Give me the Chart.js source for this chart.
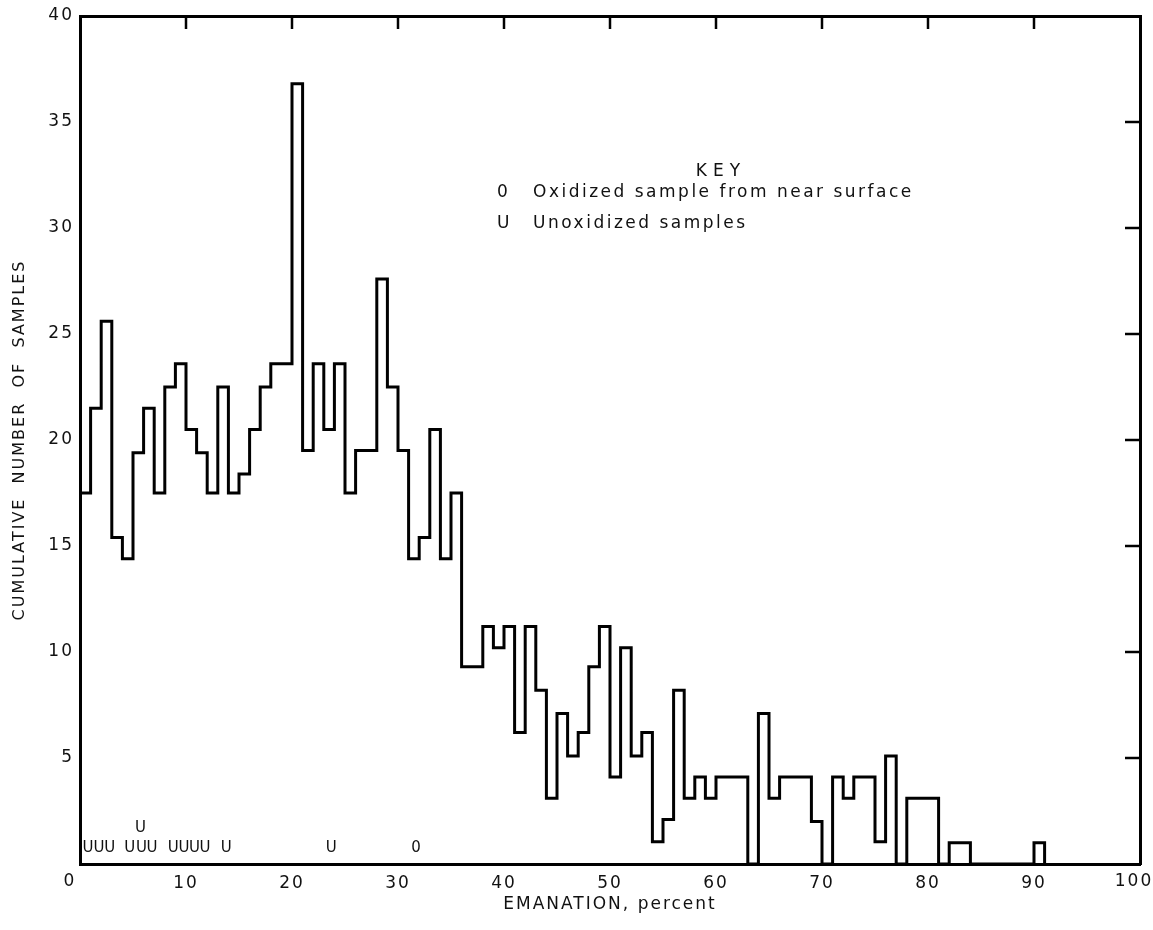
<!DOCTYPE html>
<html>
<head>
<meta charset="utf-8">
<script src="https://cdn.jsdelivr.net/npm/chart.js@4.4.1/dist/chart.umd.min.js"></script>
<style>
  html, body { margin: 0; padding: 0; background: #fff; }
  #wrap { width: 1153px; height: 930px; }
</style>
</head>
<body>
<div id="wrap"><canvas id="myChart" width="1153" height="930"></canvas></div>
<script>
// number of samples in each 1-percent emanation class (class i = i..i+1 percent)
const sampleCounts = [
  17.5, 21.5, 25.6, 15.4, 14.4, 19.4, 21.5, 17.5, 22.5, 23.6,
  20.5, 19.4, 17.5, 22.5, 17.5, 18.4, 20.5, 22.5, 23.6, 23.6,
  36.8, 19.5, 23.6, 20.5, 23.6, 17.5, 19.5, 19.5, 27.6, 22.5,
  19.5, 14.4, 15.4, 20.5, 14.4, 17.5, 9.3, 9.3, 11.2, 10.2,
  11.2, 6.2, 11.2, 8.2, 3.1, 7.1, 5.1, 6.2, 9.3, 11.2,
  4.1, 10.2, 5.1, 6.2, 1.05, 2.1, 8.2, 3.1, 4.1, 3.1,
  4.1, 4.1, 4.1, 0, 7.1, 3.1, 4.1, 4.1, 4.1, 2.0,
  0, 4.1, 3.1, 4.1, 4.1, 1.05, 5.1, 0, 3.1, 3.1,
  3.1, 0, 1.0, 1.0, 0, 0, 0, 0, 0, 0,
  1.0
];
const xTicks = [0, 10, 20, 30, 40, 50, 60, 70, 80, 90, 100];
const yTicks = [5, 10, 15, 20, 25, 30, 35, 40];

// sample markers written along the bottom of the plot
const unoxidizedX = [0.75, 1.8, 2.8, 4.7, 5.8, 6.8, 8.8, 9.8, 10.8, 11.8, 13.8, 23.7, 5.7];
const unoxidizedY = [0.75, 0.75, 0.75, 0.75, 0.75, 0.75, 0.75, 0.75, 0.75, 0.75, 0.75, 0.75, 1.7];
const oxidizedX = [31.7];
const oxidizedY = [0.75];

const keyTitle = 'KEY';
const keyItems = [['0', 'Oxidized sample from near surface'], ['U', 'Unoxidized samples']];

const FONT = '"DejaVu Sans", sans-serif';

const stepPoints = sampleCounts.map((c, i) => ({x: i, y: c}));
stepPoints.push({x: sampleCounts.length, y: 0});

const spacing = {
  id: 'spacing',
  beforeDraw(chart) { chart.ctx.letterSpacing = '2px'; }
};

const markerPlugin = {
  id: 'markers',
  afterDatasetsDraw(chart) {
    const ctx = chart.ctx;
    ctx.save();
    ctx.letterSpacing = '0px';
    ctx.fillStyle = '#111';
    ctx.font = '15px ' + FONT;
    ctx.textAlign = 'center';
    ctx.textBaseline = 'middle';
    chart.data.datasets.forEach((ds, di) => {
      if (!ds.glyph) return;
      chart.getDatasetMeta(di).data.forEach(pt => ctx.fillText(ds.glyph, pt.x, pt.y));
    });
    ctx.restore();
  }
};

const frameTicks = {
  id: 'frameTicks',
  afterDraw(chart) {
    const {ctx, chartArea, scales} = chart;
    ctx.save();
    ctx.strokeStyle = '#000';
    ctx.lineWidth = 2.5;
    xTicks.slice(1, -1).forEach(v => {
      const px = scales.x.getPixelForValue(v);
      ctx.beginPath(); ctx.moveTo(px, chartArea.top); ctx.lineTo(px, chartArea.top + 13); ctx.stroke();
    });
    yTicks.slice(0, -1).forEach(v => {
      const py = scales.y.getPixelForValue(v);
      ctx.beginPath(); ctx.moveTo(chartArea.right, py); ctx.lineTo(chartArea.right - 15, py); ctx.stroke();
    });
    ctx.fillStyle = '#111';
    ctx.textBaseline = 'middle';
    // end labels of the x axis sit a little inside, as in the original
    ctx.font = '17px ' + FONT;
    ctx.letterSpacing = '2px';
    ctx.textAlign = 'center';
    const ly = chartArea.bottom + 18;
    ctx.fillText(String(xTicks[0]), scales.x.getPixelForValue(xTicks[0]) - 10, ly);
    ctx.fillText(String(xTicks[xTicks.length - 1]), scales.x.getPixelForValue(xTicks[xTicks.length - 1]) - 6, ly);
    // key
    ctx.letterSpacing = '6px';
    ctx.fillText(keyTitle, 721, 172);
    ctx.letterSpacing = '2.5px';
    ctx.textAlign = 'left';
    keyItems.forEach((it, i) => {
      const y = 193 + i * 31;
      ctx.fillText(it[0], 497, y);
      ctx.fillText(it[1], 533, y);
    });
    ctx.restore();
  }
};

new Chart(document.getElementById('myChart'), {
  type: 'scatter',
  data: {
    datasets: [{
      type: 'line',
      label: 'Samples',
      data: stepPoints,
      stepped: 'before',
      borderColor: '#000',
      borderWidth: 3,
      pointRadius: 0,
      fill: false
    }, {
      label: 'Unoxidized samples',
      glyph: 'U',
      data: unoxidizedX.map((x, i) => ({x: x, y: unoxidizedY[i]})),
      pointRadius: 0
    }, {
      label: 'Oxidized sample from near surface',
      glyph: '0',
      data: oxidizedX.map((x, i) => ({x: x, y: oxidizedY[i]})),
      pointRadius: 0
    }]
  },
  options: {
    responsive: false,
    animation: false,
    devicePixelRatio: 1,
    layout: {padding: {left: 0, right: 13, top: 16, bottom: 0}},
    plugins: {legend: {display: false}, tooltip: {enabled: false}},
    scales: {
      x: {
        type: 'linear', position: 'bottom', min: 0, max: 100,
        afterBuildTicks: s => { s.ticks = xTicks.map(v => ({value: v})); },
        afterFit: s => { s.height = 66; s.paddingLeft = 0; s.paddingRight = 0; },
        grid: {display: false, drawTicks: false},
        border: {display: true, color: '#000', width: 3},
        ticks: {color: '#111', padding: 9, maxRotation: 0, font: {family: FONT, size: 17},
                callback: v => (v === xTicks[0] || v === xTicks[xTicks.length - 1] ? '' : v)},
        title: {display: true, text: 'EMANATION, percent', color: '#111',
                font: {family: FONT, size: 17}, padding: {top: 0, bottom: 15}}
      },
      x2: {
        type: 'linear', position: 'top', min: 0, max: 100,
        afterFit: s => { s.height = 0; s.paddingLeft = 0; s.paddingRight = 0; },
        grid: {display: false, drawTicks: false},
        border: {display: true, color: '#000', width: 3},
        ticks: {display: false}
      },
      y: {
        type: 'linear', position: 'left', min: 0, max: 40,
        afterBuildTicks: s => { s.ticks = [0].concat(yTicks).map(v => ({value: v})); },
        afterFit: s => { s.width = 80; s.paddingTop = 0; s.paddingBottom = 0; },
        grid: {display: false, drawTicks: false},
        border: {display: true, color: '#000', width: 3},
        ticks: {color: '#111', padding: 6, font: {family: FONT, size: 17},
                callback: v => (v === 0 ? '' : v)},
        title: {display: true, text: 'CUMULATIVE  NUMBER  OF  SAMPLES', color: '#111',
                font: {family: FONT, size: 16}, padding: {top: 10, bottom: 0}}
      },
      y2: {
        type: 'linear', position: 'right', min: 0, max: 40,
        afterFit: s => { s.width = 0; s.paddingTop = 0; s.paddingBottom = 0; },
        grid: {display: false, drawTicks: false},
        border: {display: true, color: '#000', width: 3},
        ticks: {display: false}
      }
    }
  },
  plugins: [spacing, markerPlugin, frameTicks]
});
</script>
</body>
</html>
